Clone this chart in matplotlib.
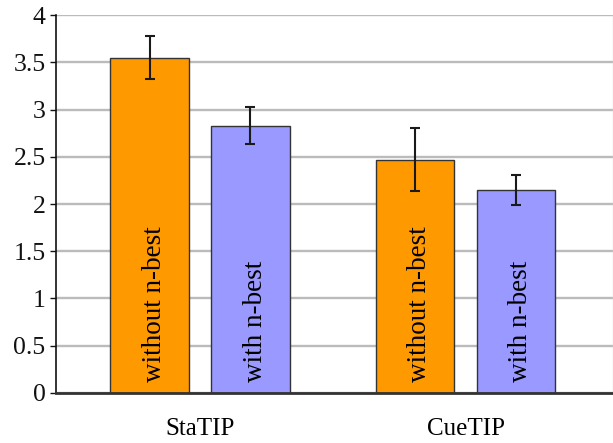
import matplotlib.pyplot as plt
import numpy as np

# values
groups = ['StaTIP', 'CueTIP']
without_nbest = [3.55, 2.47]
without_err = [0.23, 0.33]
with_nbest = [2.83, 2.15]
with_err = [0.20, 0.16]
bar_labels = ['without n-best', 'with n-best']

plt.rcParams['font.family'] = ['Liberation Serif', 'DejaVu Serif']

fig = plt.figure(figsize=(6.13, 4.43), dpi=100)
ax = fig.add_axes([0.0914, 0.1129, 0.9086, 0.8532])

x = np.arange(len(groups))
width = 0.297
offset = 0.19

ax.bar(x - offset, without_nbest, width, color='#FF9900', edgecolor='#333333',
       linewidth=1.0, zorder=3)
ax.bar(x + offset, with_nbest, width, color='#9999FF', edgecolor='#333333',
       linewidth=1.0, zorder=3)
ax.errorbar(x - offset, without_nbest, yerr=without_err, fmt='none',
            ecolor='#1a1a1a', elinewidth=1.5, capsize=3.6, capthick=1.5, zorder=4)
ax.errorbar(x + offset, with_nbest, yerr=with_err, fmt='none',
            ecolor='#1a1a1a', elinewidth=1.5, capsize=3.6, capthick=1.5, zorder=4)

# rotated labels inside the bars
for i in range(len(groups)):
    ax.text(x[i] - offset + 0.018, 0.12, bar_labels[0], rotation=90,
            ha='center', va='bottom', fontsize=19.5, zorder=5)
    ax.text(x[i] + offset + 0.018, 0.12, bar_labels[1], rotation=90,
            ha='center', va='bottom', fontsize=19.5, zorder=5)

ax.set_ylim(0, 4)
ax.set_xlim(-0.5424, 1.5556)
ax.set_yticks(np.arange(0, 4.01, 0.5))
ax.set_yticklabels(['0', '0.5', '1', '1.5', '2', '2.5', '3', '3.5', '4'])
ax.set_xticks(x)
ax.set_xticklabels(groups, fontsize=18)
ax.tick_params(axis='x', length=0, pad=18)
ax.tick_params(axis='y', labelsize=18.5, length=4.3, width=1.0, pad=3.2,
               direction='out', colors='#111111')

ax.yaxis.grid(True, color='#bbbbbb', linewidth=1.7, zorder=0)
ax.set_axisbelow(True)

ax.spines['top'].set_visible(False)
ax.spines['right'].set_color('#dddddd')
ax.spines['right'].set_linewidth(1.0)
ax.spines['left'].set_color('#111111')
ax.spines['left'].set_linewidth(1.2)
ax.spines['bottom'].set_color('#333333')
ax.spines['bottom'].set_linewidth(2.0)
ax.spines['bottom'].set_zorder(6)

fig.savefig('out.png', dpi=100)
